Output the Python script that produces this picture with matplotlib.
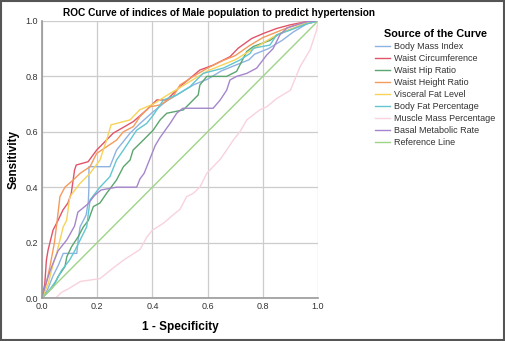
import matplotlib.pyplot as plt
from matplotlib.patches import Rectangle

plt.rcParams['font.family'] = ['Liberation Sans', 'DejaVu Sans']

# ROC points (1 - specificity, sensitivity)
bmi_x = [0, .02, .04, .06, .077, .126, .131, .138, .16, .168, .17, .17, .246, .27, .319, .355,
         .40, .45, .50, .55, .60, .65, .70, .75, .77, .82, .87, .91, .96, 1]
bmi_y = [0, .03, .08, .12, .161, .161, .209, .257, .30, .35, .40, .474, .474, .534, .595, .63,
         .67, .71, .74, .77, .79, .82, .84, .86, .88, .90, .93, .96, .99, 1]

wc_x = [0, .01, .016, .022, .04, .058, .076, .094, .106, .118, .124, .167, .198, .258, .331, .379,
        .416, .452, .5, .572, .621, .681, .711, .760, .802, .850, .899, .959, 1]
wc_y = [0, .05, .137, .173, .245, .28, .318, .343, .378, .462, .48, .492, .534, .595, .637, .679,
        .715, .715, .763, .823, .841, .871, .902, .937, .955, .973, .986, .998, 1]

whr_x = [0, .017, .04, .058, .083, .09, .107, .131, .15, .168, .186, .21, .234, .27, .295, .319,
         .33, .367, .403, .428, .452, .512, .566, .572, .597, .669, .705, .742, .766, .826, .862,
         .91, .959, 1]
whr_y = [0, .017, .04, .077, .113, .149, .185, .221, .257, .28, .33, .343, .378, .426, .474, .498,
         .534, .57, .606, .643, .667, .679, .733, .769, .80, .80, .818, .89, .908, .93, .955,
         .973, .99, 1]

whtr_x = [0, .015, .03, .045, .055, .065, .083, .113, .138, .174, .198, .234, .27, .295, .331, .355,
          .39, .428, .475, .5, .548, .6, .65, .70, .75, .80, .85, .90, .95, 1]
whtr_y = [0, .05, .12, .2, .28, .366, .40, .426, .45, .474, .522, .546, .57, .60, .619, .655,
          .69, .697, .727, .769, .80, .83, .855, .875, .91, .94, .96, .98, .995, 1]

vfl_x = [0, .023, .041, .053, .065, .077, .089, .101, .138, .174, .21, .234, .25, .319, .355,
         .403, .45, .5, .55, .6, .65, .7, .75, .8, .85, .9, .95, 1]
vfl_y = [0, .053, .125, .161, .209, .257, .28, .366, .414, .45, .498, .57, .625, .643, .68,
         .70, .73, .76, .79, .82, .84, .86, .89, .92, .95, .97, .99, 1]

bfp_x = [0, .02, .053, .071, .10, .12, .144, .162, .174, .21, .246, .27, .295, .319, .343, .379,
         .403, .44, .488, .536, .584, .657, .717, .754, .766, .826, .85, .899, .959, 1]
bfp_y = [0, .02, .065, .10, .137, .173, .221, .257, .354, .40, .438, .498, .534, .57, .606, .63,
         .66, .715, .733, .763, .811, .83, .859, .883, .902, .913, .95, .967, .99, 1]

mmp_x = [0, .05, .07, .09, .14, .21, .26, .30, .355, .38, .40, .44, .475, .5, .524, .548, .572,
         .597, .62, .645, .669, .693, .717, .742, .79, .814, .85, .9, .935, .971, .995, 1]
mmp_y = [0, 0, .02, .03, .06, .07, .11, .14, .175, .22, .245, .27, .30, .32, .366, .378, .40,
         .45, .474, .50, .534, .57, .60, .643, .68, .69, .72, .75, .835, .895, .967, 1]

bmr_x = [0, .01, .03, .058, .09, .118, .13, .167, .19, .214, .27, .343, .355, .37, .39, .41,
         .428, .464, .488, .51, .62, .645, .669, .681, .705, .742, .778, .814, .837, .862, .887,
         .923, .96, 1]
bmr_y = [0, .04, .10, .17, .21, .26, .31, .34, .37, .39, .40, .40, .43, .45, .50, .55,
         .58, .63, .667, .685, .685, .714, .75, .787, .80, .811, .83, .877, .90, .95, .974,
         .986, .998, 1]

ref_x = [0, 1]
ref_y = [0, 1]

series = [
    ('Body Mass Index', bmi_x, bmi_y, '#8fb3e0'),
    ('Waist Circumference', wc_x, wc_y, '#e0546a'),
    ('Waist Hip Ratio', whr_x, whr_y, '#5aa66e'),
    ('Waist Height Ratio', whtr_x, whtr_y, '#f59a5c'),
    ('Visceral Fat Level', vfl_x, vfl_y, '#f7d35a'),
    ('Body Fat Percentage', bfp_x, bfp_y, '#62c6d0'),
    ('Muscle Mass Percentage', mmp_x, mmp_y, '#f8d2dc'),
    ('Basal Metabolic Rate', bmr_x, bmr_y, '#a586cc'),
    ('Reference Line', ref_x, ref_y, '#9fd487'),
]

fig = plt.figure(figsize=(5.05, 3.41), dpi=100)
ax = fig.add_axes([42 / 505, 43 / 341, 276 / 505, 277 / 341])

for name, xs, ys, col in series:
    ax.plot(xs, ys, color=col, lw=1.0, label=name)

ax.set_xlim(0, 1)
ax.set_ylim(0, 1)
ticks = [0.0, 0.2, 0.4, 0.6, 0.8, 1.0]
ax.set_xticks(ticks)
ax.set_yticks(ticks)
ax.set_xticklabels(['%.1f' % t for t in ticks])
ax.set_yticklabels(['%.1f' % t for t in ticks])
ax.tick_params(length=0, labelsize=6.5, labelcolor='#333333', pad=3)
ax.grid(True, color='#cccccc', lw=0.9)
ax.set_axisbelow(True)
for side in ['top', 'right']:
    ax.spines[side].set_visible(False)
for side in ['left', 'bottom']:
    ax.spines[side].set_color('#999999')
    ax.spines[side].set_linewidth(1.2)

ax.set_xlabel('1 - Specificity', fontsize=8.5, fontweight='bold', labelpad=7)
ax.set_ylabel('Sensitivity', fontsize=8.5, fontweight='bold', labelpad=4)
fig.text(219 / 505, 1 - 13 / 341, 'ROC Curve of indices of Male population to predict hypertension',
         ha='center', va='center', fontsize=7.3, fontweight='bold')

leg = fig.legend(loc='upper left', bbox_to_anchor=(375 / 505, 1 - 29 / 341), frameon=False,
                 fontsize=6.5, title='Source of the Curve', handlelength=1.7, handletextpad=0.45,
                 labelspacing=0.33, borderaxespad=0, borderpad=0)
leg.get_title().set_fontweight('bold')
leg.get_title().set_fontsize(7.8)
leg._legend_box.align = 'center'
for t in leg.get_texts():
    t.set_color('#333333')

# outer frame around the whole picture
fig.patches.append(Rectangle((0.002, 0.003), 0.996, 0.994, transform=fig.transFigure,
                             fill=False, edgecolor='#555555', lw=1.5))

fig.savefig('out.png', dpi=100)
